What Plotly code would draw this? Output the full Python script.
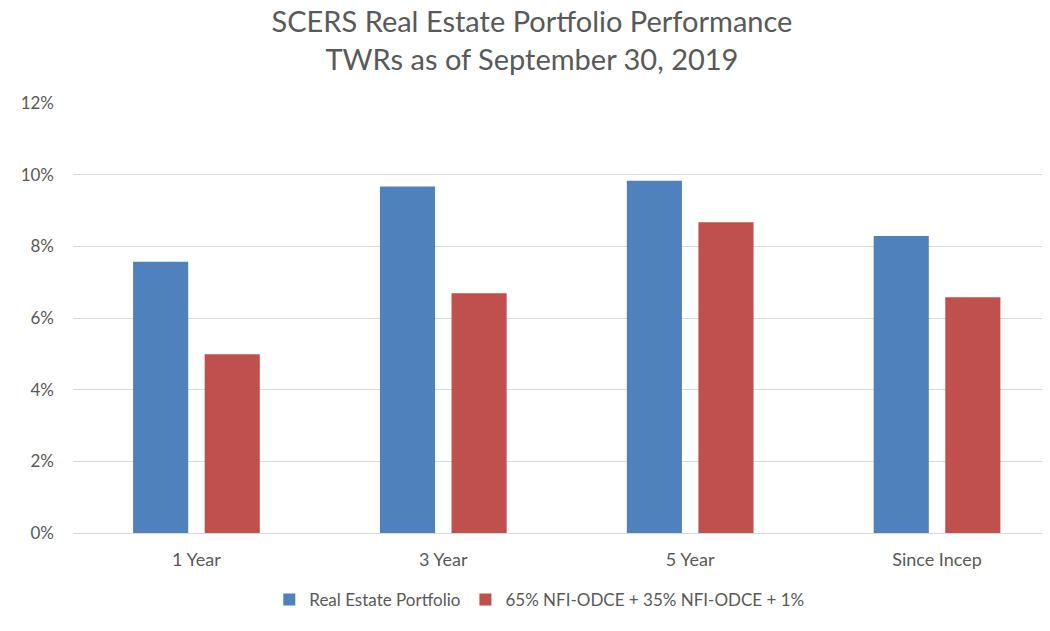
import plotly.graph_objects as go

categories = ["1 Year", "3 Year", "5 Year", "Since Incep"]
portfolio = [7.57, 9.67, 9.83, 8.29]
benchmark = [4.99, 6.69, 8.67, 6.58]
series_names = ["Real Estate Portfolio", "65% NFI-ODCE + 35% NFI-ODCE + 1%"]
y_ticks = [0, 2, 4, 6, 8, 10, 12]

FONT = "Lato, 'Open Sans', sans-serif"
GREY = "#595959"

fig = go.Figure()
fig.add_trace(go.Bar(x=categories, y=portfolio, name=series_names[0],
                     marker=dict(color="#4F81BD", line=dict(width=0))))
fig.add_trace(go.Bar(x=categories, y=benchmark, name=series_names[1],
                     marker=dict(color="#C0504D", line=dict(width=0))))

fig.update_layout(
    width=1050, height=631,
    paper_bgcolor="white", plot_bgcolor="white",
    margin=dict(l=65, r=0, t=95, b=106),
    barmode="group", bargap=0.42, bargroupgap=0.23,
    font=dict(family=FONT, color=GREY, size=17),
    title=dict(
        text="SCERS Real Estate Portfolio Performance<br>TWRs as of September 30, 2019",
        x=0.499, xanchor="center", yref="container", y=0.962, yanchor="top",
        font=dict(family=FONT, size=29, color=GREY),
    ),
    xaxis=dict(range=[-0.5, 3.49], showgrid=False, showline=False,
               ticks="", ticklabelstandoff=14,
               tickfont=dict(size=18, color=GREY)),
    yaxis=dict(range=[0, 12], tickvals=y_ticks,
               ticktext=[f"{v}%" for v in y_ticks],
               gridcolor="#D9D9D9", gridwidth=1, zeroline=True,
               zerolinecolor="#D9D9D9", zerolinewidth=1,
               showline=False, ticks="", ticklabelstandoff=18,
               tickfont=dict(size=17, color=GREY)),
    legend=dict(orientation="h", xref="container", x=0.506, xanchor="center",
                yref="container", y=0.062, yanchor="middle",
                font=dict(size=17, color=GREY), itemwidth=30,
                traceorder="normal"),
    showlegend=True,
)

fig.write_html("out.html")
